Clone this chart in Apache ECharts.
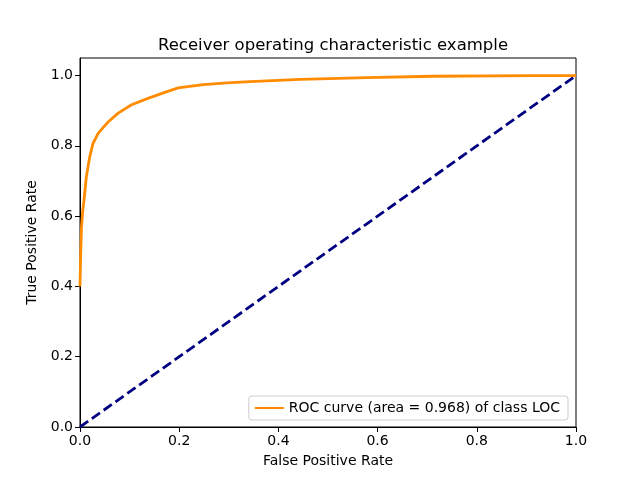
<!DOCTYPE html>
<html>
<head>
<meta charset="utf-8">
<script src="https://cdn.jsdelivr.net/npm/echarts@6/dist/echarts.min.js"></script>
<style>
  html, body { margin: 0; padding: 0; background: #fff; }
  #main { width: 640px; height: 480px; }
</style>
</head>
<body>
<div id="main"></div>
<script>
// ROC curve points
var fpr = [0, 0.001, 0.002, 0.003, 0.0055, 0.008, 0.0127, 0.0195, 0.026, 0.036, 0.043, 0.056, 0.077,
           0.104, 0.137, 0.171, 0.198, 0.225, 0.249, 0.296, 0.343, 0.444, 0.578, 0.712, 0.915, 1.0];
var tpr = [0.40, 0.47, 0.52, 0.568, 0.615, 0.644, 0.711, 0.768, 0.806, 0.834, 0.846, 0.867, 0.893,
           0.917, 0.935, 0.952, 0.965, 0.970, 0.974, 0.979, 0.983, 0.989, 0.994, 0.998, 1.0, 1.0];
// chance line
var diagX = [0, 1];
var diagY = [0, 1];
var rocLabel = 'ROC curve (area = 0.968) of class LOC';

var FONT = 'DejaVu Sans';

function pairs(xs, ys) {
    var out = [];
    for (var i = 0; i < xs.length; i++) out.push([xs[i], ys[i]]);
    return out;
}

var myChart = echarts.init(document.getElementById('main'));

var option = {
    backgroundColor: '#fff',
    animation: false,
    title: {
        text: 'Receiver operating characteristic example',
        left: 328,
        top: 32,
        textAlign: 'center',
        textStyle: { fontFamily: FONT, fontSize: 16.5, fontWeight: 'normal', color: '#000' }
    },
    grid: {
        left: 80, right: 64, top: 58, bottom: 53,
        show: true, borderColor: '#000', borderWidth: 1
    },
    legend: {
        data: [rocLabel],
        right: 72,
        bottom: 60,
        orient: 'vertical',
        itemWidth: 29,
        itemHeight: 3,
        itemGap: 0,
        padding: [5, 8, 5, 5],
        borderColor: '#cccccc',
        borderWidth: 1,
        borderRadius: 3,
        backgroundColor: 'rgba(255,255,255,0.8)',
        textStyle: { fontFamily: FONT, fontSize: 14, color: '#000' }
    },
    xAxis: {
        type: 'value',
        min: 0, max: 1, interval: 0.2,
        name: 'False Positive Rate',
        nameLocation: 'middle',
        nameGap: 27,
        nameTextStyle: { fontFamily: FONT, fontSize: 14, color: '#000' },
        axisLine: { lineStyle: { color: '#000', width: 1 } },
        axisTick: { show: true, length: 5, inside: false, lineStyle: { color: '#000' } },
        axisLabel: {
            fontFamily: FONT, fontSize: 14, color: '#000', margin: 7,
            formatter: function (v) { return v.toFixed(1); }
        },
        splitLine: { show: false }
    },
    yAxis: {
        type: 'value',
        min: 0, max: 1.05, interval: 0.2,
        name: 'True Positive Rate',
        nameLocation: 'middle',
        nameGap: 41,
        nameTextStyle: { fontFamily: FONT, fontSize: 14, color: '#000' },
        axisLine: { lineStyle: { color: '#000', width: 1 } },
        axisTick: { show: true, length: 5, inside: false, lineStyle: { color: '#000' } },
        axisLabel: {
            fontFamily: FONT, fontSize: 14, color: '#000', margin: 7,
            showMaxLabel: false,
            formatter: function (v) { return v > 1.01 ? '' : v.toFixed(1); }
        },
        splitLine: { show: false }
    },
    series: [{
        name: rocLabel,
        type: 'line',
        showSymbol: false,
        symbol: 'none',
        data: pairs(fpr, tpr),
        color: '#ff8c00',
        lineStyle: { color: '#ff8c00', width: 2.8, join: 'round' },
        z: 3
    }, {
        name: 'chance',
        type: 'line',
        showSymbol: false,
        symbol: 'none',
        data: pairs(diagX, diagY),
        lineStyle: { color: '#000080', width: 2.8, type: [10, 4.5] },
        z: 2
    }]
};

myChart.setOption(option);
</script>
</body>
</html>
